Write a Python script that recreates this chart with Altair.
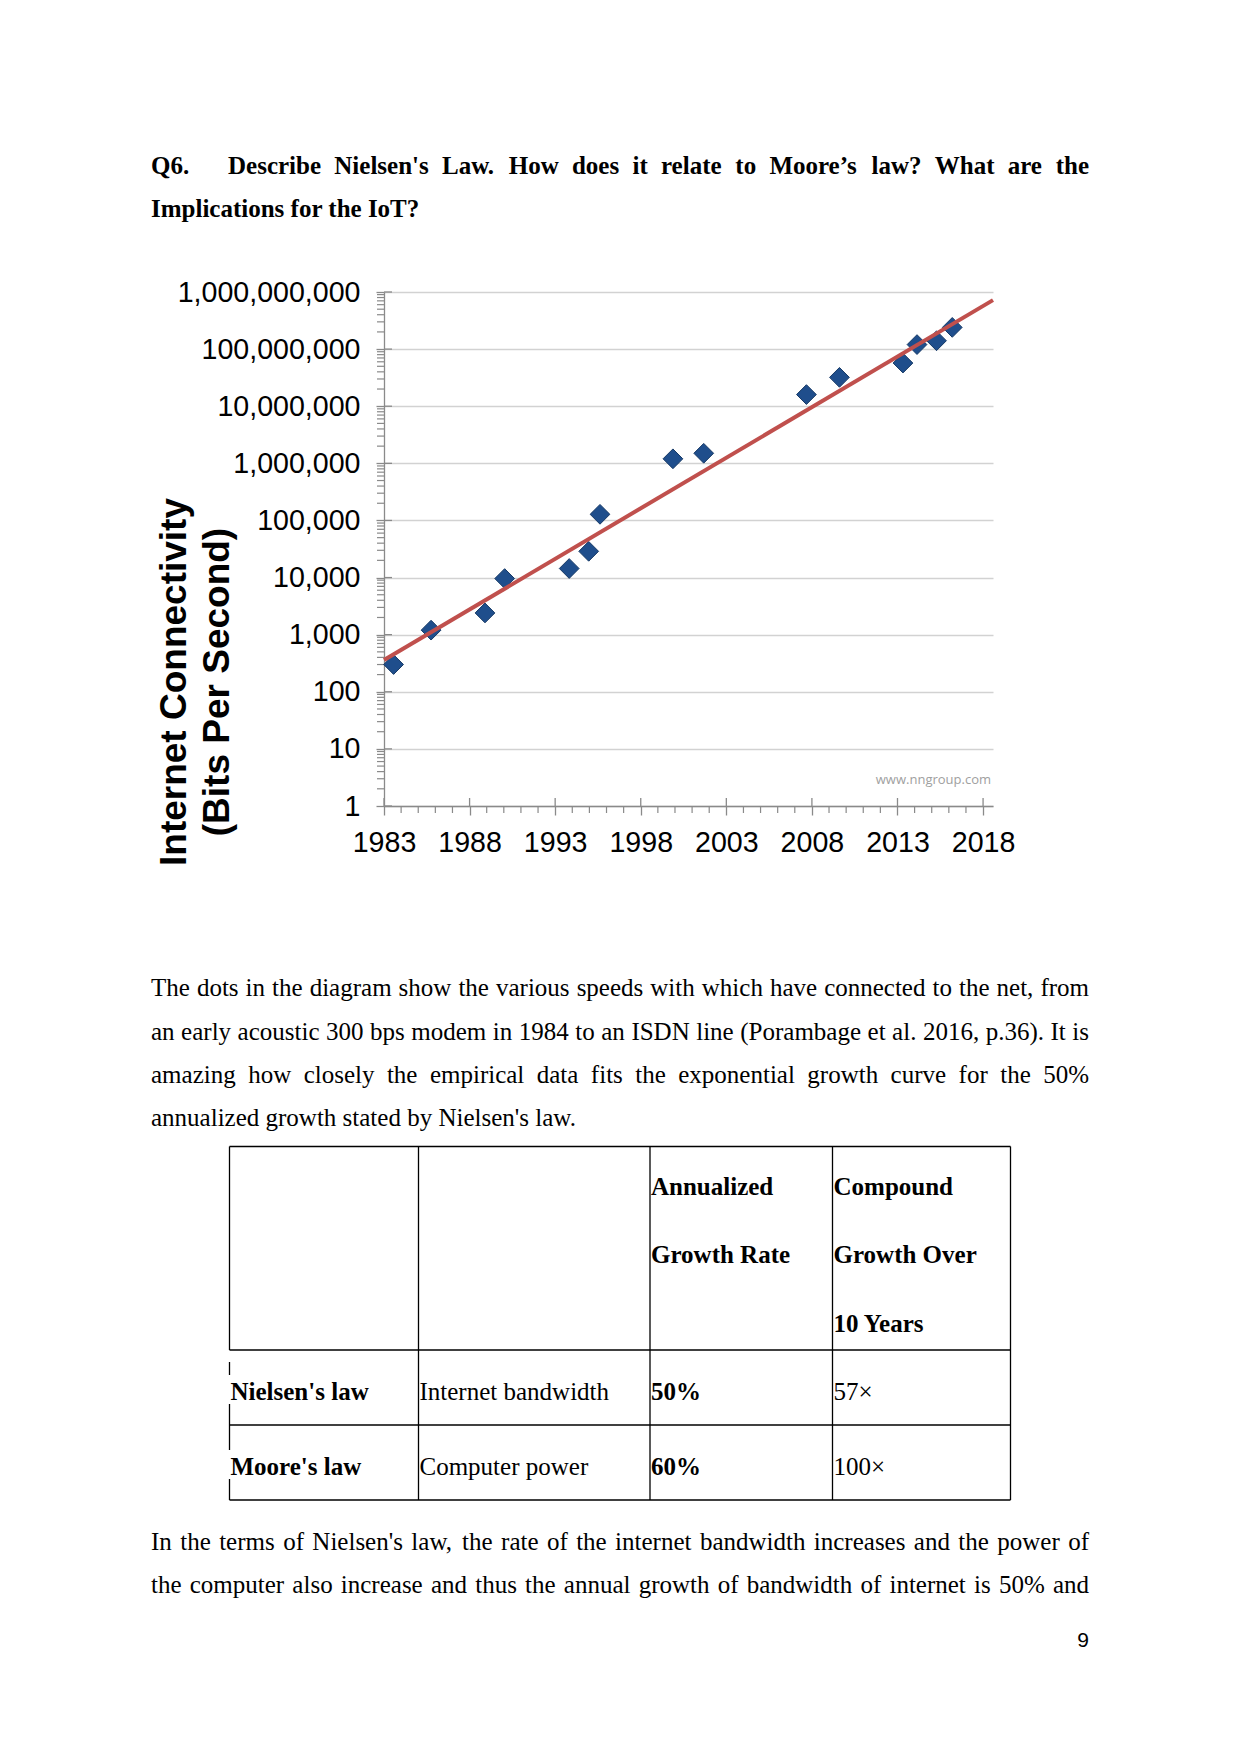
import altair as alt
import pandas as pd

# ---------------- data ----------------
years = [1983.56, 1985.75, 1988.9, 1990.05, 1993.82, 1994.96, 1995.62, 1999.88,
         2001.68, 2007.68, 2009.61, 2013.32, 2014.14, 2015.28, 2016.2]
bps = [300, 1200, 2400, 9600, 14400, 28800, 128000, 1200000, 1500000,
       16000000, 32000000, 57000000, 120000000, 140000000, 240000000]
trend_years = [1983, 2018.58]
trend_bps = [360, 720000000]

y_ticks = [1, 10, 100, 1000, 10000, 100000, 1000000, 10000000, 100000000, 1000000000]
x_ticks = [1983, 1988, 1993, 1998, 2003, 2008, 2013, 2018]
y_title = ["Internet Connectivity", "(Bits Per Second)"]
watermark = "www.nngroup.com"

title_q = "Q6."
title_line1 = "Describe Nielsen's Law. How does it relate to Moore\u2019s law? What are the"
title_line2 = "Implications for the IoT?"
para1 = [
    "The dots in the diagram show the various speeds with which have connected to the net, from",
    "an early acoustic 300 bps modem in 1984 to an ISDN line (Porambage et al. 2016, p.36). It is",
    "amazing how closely the empirical data fits the exponential growth curve for the 50%",
    "annualized growth stated by Nielsen's law.",
]
para2 = [
    "In the terms of Nielsen's law, the rate of the internet bandwidth increases and the power of",
    "the computer also increase and thus the annual growth of bandwidth of internet is 50% and",
]
header_col3 = ["Annualized", "Growth Rate"]
header_col4 = ["Compound", "Growth Over", "10 Years"]
table_rows = [
    ["Nielsen's law", "Internet bandwidth", "50%", "57\u00d7"],
    ["Moore's law", "Computer power", "60%", "100\u00d7"],
]
col_bold = [True, False, True, False]
page_number = "9"

# ---------------- layout ----------------
PAD_L, PAD_T = 376, 284
W, H = 609, 514
PAD_R = 1225 - PAD_L - W
PAD_B = 1720 - PAD_T - H
OX, OY = 8 + PAD_L, 8 + PAD_T

def rx(x):
    return x - OX

def ry(y):
    return y - OY

REG = {' ': .25, 'a': .444, 'b': .5, 'c': .444, 'd': .5, 'e': .444, 'f': .333, 'g': .5, 'h': .5,
       'i': .278, 'j': .278, 'k': .5, 'l': .278, 'm': .778, 'n': .5, 'o': .5, 'p': .5, 'q': .5,
       'r': .333, 's': .389, 't': .278, 'u': .5, 'v': .5, 'w': .722, 'x': .5, 'y': .5, 'z': .444,
       'A': .722, 'B': .667, 'C': .667, 'D': .722, 'E': .611, 'F': .556, 'G': .722, 'H': .722,
       'I': .333, 'J': .389, 'K': .722, 'L': .611, 'M': .889, 'N': .722, 'O': .722, 'P': .556,
       'Q': .722, 'R': .667, 'S': .556, 'T': .611, 'U': .722, 'V': .722, 'W': .944, 'X': .722,
       'Y': .722, 'Z': .611, '.': .25, ',': .25, '(': .333, ')': .333, '%': .833, "'": .18,
       '\u2019': .333, '?': .444, '\u00d7': .564, ':': .278, '-': .333}
BOLD = {' ': .25, 'a': .5, 'b': .556, 'c': .444, 'd': .556, 'e': .444, 'f': .333, 'g': .5, 'h': .556,
        'i': .278, 'j': .333, 'k': .556, 'l': .278, 'm': .833, 'n': .556, 'o': .5, 'p': .556, 'q': .556,
        'r': .444, 's': .389, 't': .333, 'u': .556, 'v': .5, 'w': .722, 'x': .5, 'y': .5, 'z': .444,
        'A': .722, 'B': .667, 'C': .722, 'D': .722, 'E': .667, 'F': .611, 'G': .778, 'H': .778,
        'I': .389, 'J': .5, 'K': .778, 'L': .667, 'M': .944, 'N': .722, 'O': .778, 'P': .611,
        'Q': .778, 'R': .722, 'S': .556, 'T': .667, 'U': .722, 'V': .722, 'W': 1.0, 'X': .722,
        'Y': .722, 'Z': .667, '.': .25, ',': .25, '?': .5, "'": .278, '\u2019': .333, '%': 1.0}

FS = 25
recs = []

def tw(s, bold):
    t = BOLD if bold else REG
    return sum(t.get(c, .5) for c in s) * FS

def add_left(s, x, y, bold):
    recs.append(dict(t=s, x=rx(x), y=ry(y), bold=bold, al="left"))

def add_just(line, x0, x1, y, bold):
    words = line.split(" ")
    ws = [tw(w, bold) for w in words]
    gap = (x1 - x0 - sum(ws)) / (len(words) - 1)
    x = x0
    for i, (w, wd) in enumerate(zip(words, ws)):
        if i == len(words) - 1:
            recs.append(dict(t=w, x=rx(x1), y=ry(y), bold=bold, al="right"))
        else:
            recs.append(dict(t=w, x=rx(x), y=ry(y), bold=bold, al="left"))
        x += wd + gap

LM, RM = 151, 1089
add_left(title_q, LM, 174, True)
add_just(title_line1, 228, RM, 174, True)
add_left(title_line2, LM, 217, True)

p1_base = [996, 1040, 1083, 1126]
for i, line in enumerate(para1):
    if i < len(para1) - 1:
        add_just(line, LM, RM, p1_base[i], False)
    else:
        add_left(line, LM, p1_base[i], False)

p2_base = [1550, 1593]
for i, line in enumerate(para2):
    add_just(line, LM, RM, p2_base[i], False)

# table
col_x = [229.5, 418.5, 650, 832.5, 1010.5]
row_y = [1146.5, 1350, 1425, 1500]
head_base = [1195, 1263, 1332]
for i, s in enumerate(header_col3):
    add_left(s, col_x[2] + 1, head_base[i], True)
for i, s in enumerate(header_col4):
    add_left(s, col_x[3] + 1, head_base[i], True)
row_base = [1400, 1475]
for r, row in enumerate(table_rows):
    for c, s in enumerate(row):
        add_left(s, col_x[c] + 1, row_base[r], col_bold[c])

words = pd.DataFrame(recs)

segs = []
for yy in row_y:
    segs.append(dict(x=rx(col_x[0]), y=ry(yy), x2=rx(col_x[-1]), y2=ry(yy)))
for xx in col_x[1:]:
    segs.append(dict(x=rx(xx), y=ry(row_y[0]), x2=rx(xx), y2=ry(row_y[-1])))
left_parts = [(row_y[0], row_y[1]), (1362, 1375), (1404, 1425), (1425, 1450), (1479, 1500)]
for a, b in left_parts:
    segs.append(dict(x=rx(col_x[0]), y=ry(a), x2=rx(col_x[0]), y2=ry(b)))
segs = pd.DataFrame(segs)

# ---------------- plot ----------------
AX = "#8A8A8A"
LFS = 28.6
xscale = alt.Scale(domain=[1983, 2018.58], nice=False, zero=False)
yscale = alt.Scale(type="log", domain=[1, 1e9], nice=False)

pts = pd.DataFrame({"year": years, "bps": bps})
trend = pd.DataFrame({"year": trend_years, "bps": trend_bps})

x_axis = alt.Axis(values=x_ticks, format="d", labelFont="Liberation Sans", labelFontSize=LFS,
                  labelColor="black", tickSize=9, tickColor=AX, tickWidth=1.3, domainColor=AX,
                  domainWidth=1.3, labelPadding=13, grid=False, title=None, labelFlush=False,
                  labelOverlap=False, labelLimit=400)
y_axis = alt.Axis(values=y_ticks, format=",", labelFont="Liberation Sans", labelFontSize=LFS,
                  labelColor="black", tickSize=8, tickColor=AX, tickWidth=1.3, domainColor=AX,
                  domainWidth=1.3, labelPadding=16, grid=True, gridColor="#D2D2D2", gridWidth=1.5,
                  title=None, labelFlush=False, labelOverlap=False, labelLimit=400)

points = alt.Chart(pts).mark_point(shape="diamond", filled=True, size=390, color="#1F4E8C",
                                   stroke="#173A66", strokeWidth=1, opacity=1).encode(
    x=alt.X("year:Q", scale=xscale, axis=x_axis),
    y=alt.Y("bps:Q", scale=yscale, axis=y_axis),
)
line = alt.Chart(trend).mark_line(color="#C0504D", strokeWidth=4).encode(
    x=alt.X("year:Q", scale=xscale, axis=x_axis),
    y=alt.Y("bps:Q", scale=yscale, axis=y_axis),
)

minor_y = pd.DataFrame({"bps": [m * 10 ** k for k in range(9) for m in range(2, 10)]})
major_y = pd.DataFrame({"bps": y_ticks})
minor_x = pd.DataFrame({"year": [y for y in range(1984, 2018) if (y - 1983) % 5 != 0]})
major_x = pd.DataFrame({"year": x_ticks})

ytick_minor = alt.Chart(minor_y).mark_rule(color=AX, strokeWidth=1.2).encode(
    y=alt.Y("bps:Q", scale=yscale, axis=y_axis), x=alt.value(-7), x2=alt.value(1))
ytick_in = alt.Chart(major_y).mark_rule(color=AX, strokeWidth=1.3).encode(
    y=alt.Y("bps:Q", scale=yscale, axis=y_axis), x=alt.value(0), x2=alt.value(8))
xtick_minor = alt.Chart(minor_x).mark_rule(color=AX, strokeWidth=1.2).encode(
    x=alt.X("year:Q", scale=xscale, axis=x_axis), y=alt.value(H), y2=alt.value(H + 7))
xtick_in = alt.Chart(major_x).mark_rule(color=AX, strokeWidth=1.3).encode(
    x=alt.X("year:Q", scale=xscale, axis=x_axis), y=alt.value(H - 8), y2=alt.value(H))

plot = alt.layer(ytick_minor, ytick_in, xtick_minor, xtick_in, points, line)

# ---------------- page text ----------------
ytitle1 = alt.Chart(pd.DataFrame({"t": [y_title[0]]})).mark_text(
    font="Liberation Sans", fontSize=37, fontWeight="bold", angle=270, align="center",
    baseline="alphabetic", color="black").encode(
    text="t:N", x=alt.value(rx(186)), y=alt.value(ry(682)))
ytitle2 = alt.Chart(pd.DataFrame({"t": [y_title[1]]})).mark_text(
    font="Liberation Sans", fontSize=37, fontWeight="bold", angle=270, align="center",
    baseline="alphabetic", color="black").encode(
    text="t:N", x=alt.value(rx(229)), y=alt.value(ry(682)))
wm = alt.Chart(pd.DataFrame({"t": [watermark]})).mark_text(
    font="Open Sans", fontSize=13, align="right", baseline="alphabetic", color="#A0A0A0").encode(
    text="t:N", x=alt.value(rx(991)), y=alt.value(ry(784)))
pnum = alt.Chart(pd.DataFrame({"t": [page_number]})).mark_text(
    font="Liberation Sans", fontSize=21, align="right", baseline="alphabetic", color="black").encode(
    text="t:N", x=alt.value(rx(1089)), y=alt.value(ry(1647)))

def word_layer(bold, al):
    d = words[(words.bold == bold) & (words.al == al)]
    return alt.Chart(d).mark_text(font="Liberation Serif", fontSize=FS,
                                  fontWeight="bold" if bold else "normal",
                                  align=al, baseline="alphabetic", color="black").encode(
        x=alt.X("x:Q", scale=None, axis=None), y=alt.Y("y:Q", scale=None, axis=None), text="t:N")

table = alt.Chart(segs).mark_rule(color="black", strokeWidth=1.3).encode(
    x=alt.X("x:Q", scale=None, axis=None), x2="x2:Q",
    y=alt.Y("y:Q", scale=None, axis=None), y2="y2:Q")

page = alt.layer(
    wm, ytitle1, ytitle2,
    word_layer(True, "left"), word_layer(True, "right"),
    word_layer(False, "left"), word_layer(False, "right"),
    table, pnum,
)

chart = alt.layer(plot, page).resolve_scale(
    x="independent", y="independent"
).resolve_axis(
    x="independent", y="independent"
).properties(
    width=W, height=H,
    padding={"left": PAD_L, "top": PAD_T, "right": PAD_R, "bottom": PAD_B},
    autosize=alt.AutoSizeParams(type="none"),
    background="white",
).configure_view(stroke=None)

chart.save("out.html", embed_options={"renderer": "svg", "actions": False})
